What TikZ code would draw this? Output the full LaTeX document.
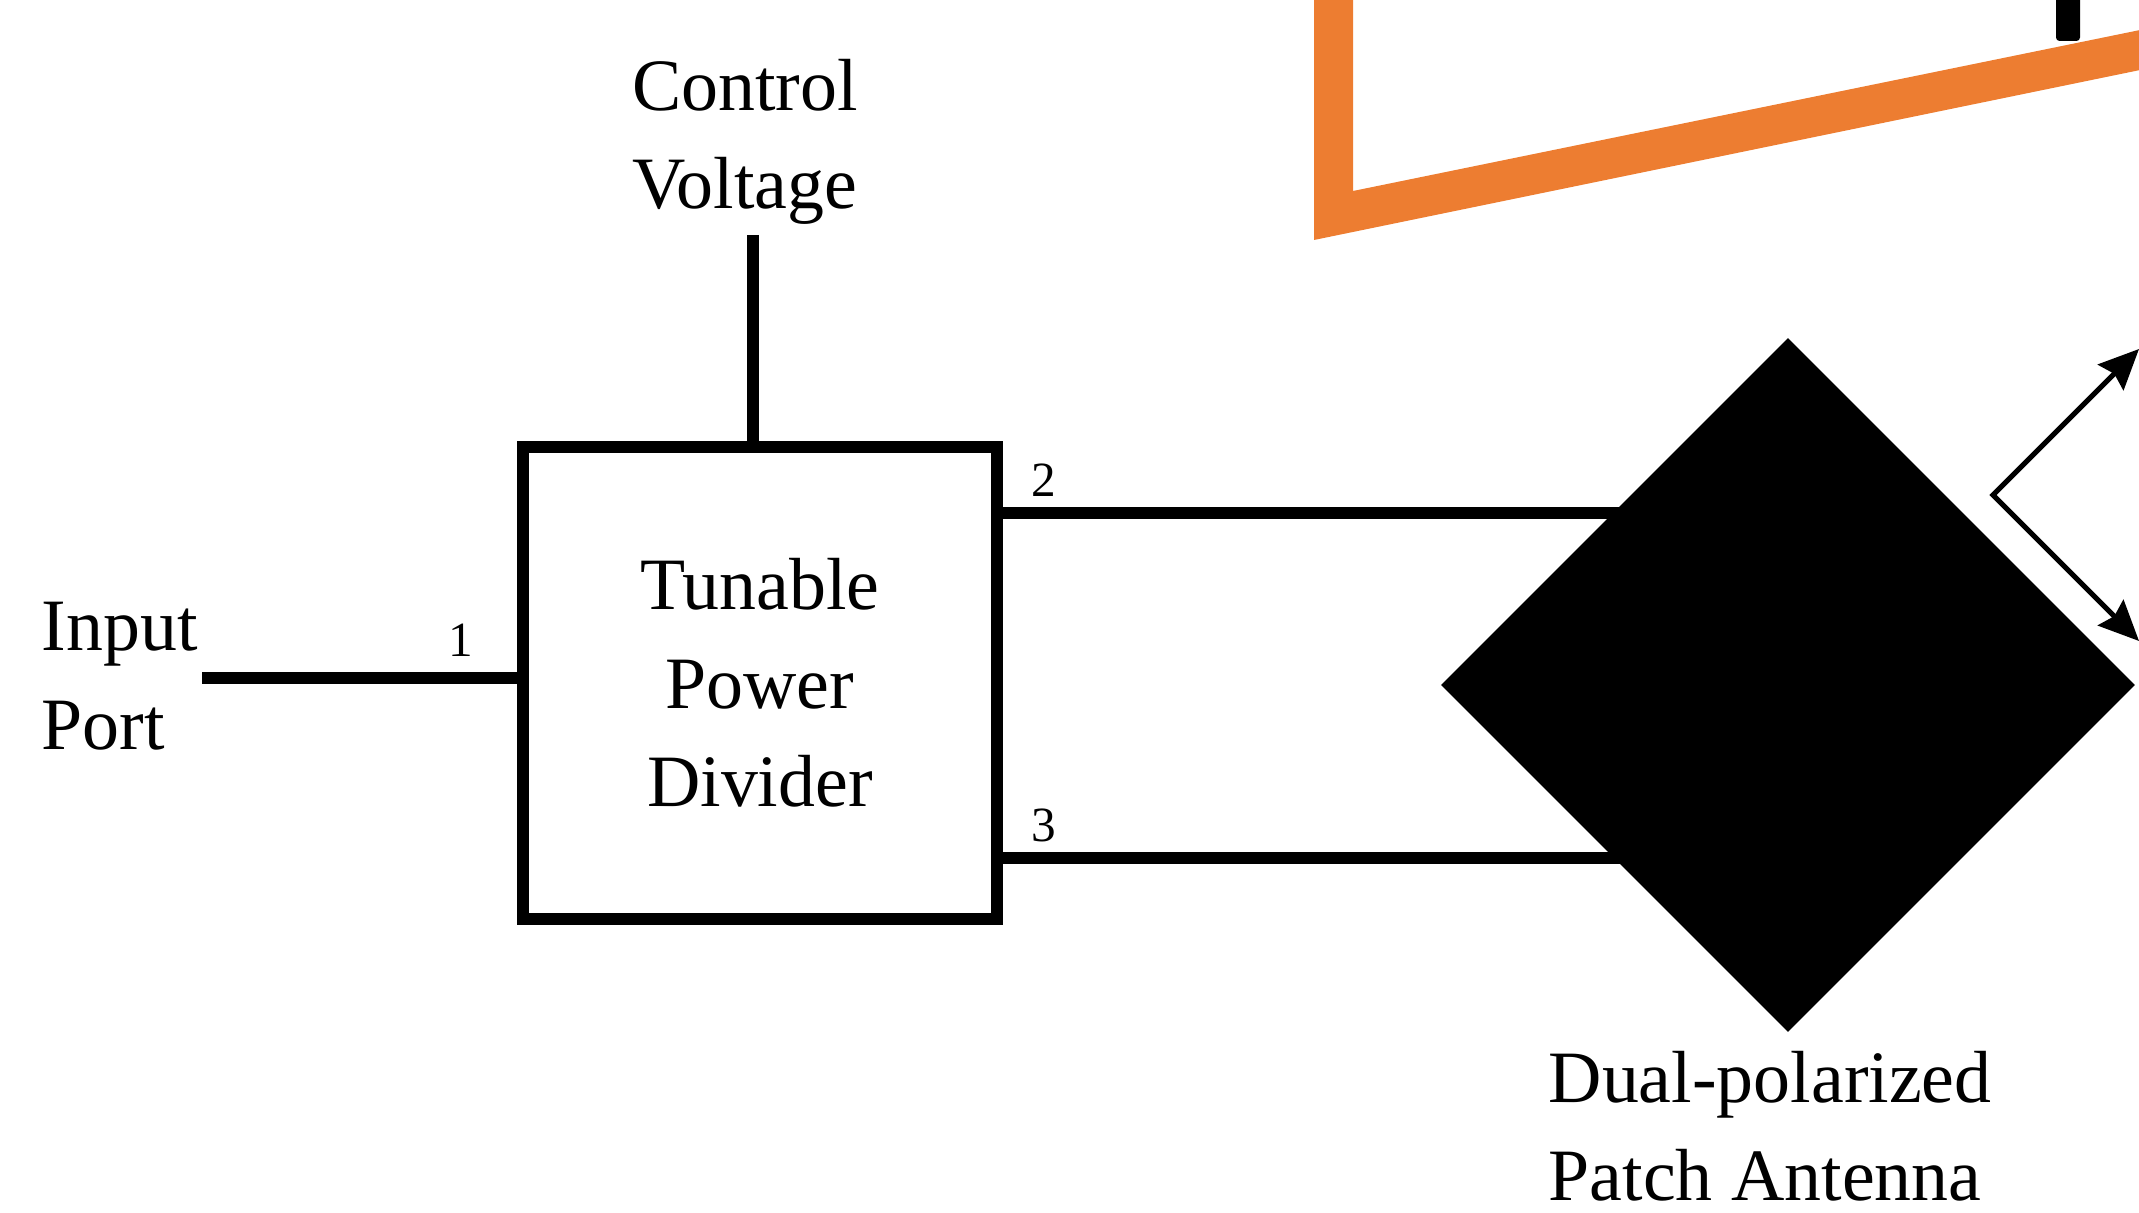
\documentclass[tikz,border=0pt]{standalone}
\usepackage{fontspec}
\setmainfont{Liberation Serif}
\usepackage{xcolor}
\definecolor{tpdOrange}{RGB}{237,125,49}
\usetikzlibrary{arrows.meta,positioning,shapes.geometric}

\begin{document}
\begin{tikzpicture}[
    x=0.01cm, y=-0.01cm,
    lbl/.style={font=\fontsize{21}{28}\selectfont, align=center, inner sep=0pt},
    portnum/.style={font=\fontsize{14}{16}\selectfont, inner sep=0pt},
    divider/.style={lbl, draw=black, line width=0.125cm,
      minimum width=4.74cm, minimum height=4.72cm},
    antenna/.style={diamond, fill=black, inner sep=0pt, minimum width=6.94cm,
      minimum height=6.94cm},
    wire/.style={line width=0.125cm, draw=black},
    polarrow/.style={{Stealth[length=0.4cm, width=0.36cm, inset=0.05cm]}-{Stealth[length=0.4cm, width=0.36cm, inset=0.05cm]},
      line width=0.05cm, draw=black}
  ]
    \useasboundingbox (0,0) rectangle (2139,1213);

    % cut-off parts of the neighbouring figure
    \fill[tpdOrange] (1314,-5) -- (1314,240) -- (2145,69) -- (2145,29) -- (1353,191) -- (1353,-5) -- cycle;
    \fill[rounded corners=1pt] (2056,-5) rectangle (2080,41);

    \node[divider] (tpd) at (760,683) {Tunable\\Power\\Divider};
    \node[lbl] (ctrl) at (745,142) {Control\\Voltage};
    \node[lbl, align=left, anchor=west] (inp) at (41,676) {Input\\Port};
    \node[portnum] (n1) at (461,640) {1};
    \node[portnum] (n2) at (1044,480) {2};
    \node[portnum] (n3) at (1044,825) {3};

    \coordinate (vc) at (753,235);
    \coordinate (pin) at (202,678);
    \coordinate (p2) at (997,513);
    \coordinate (p3) at (997,858);
    \coordinate (antc) at (1788,685);

    \draw[wire] (vc) -- (vc |- tpd.north);
    \draw[wire] (pin) -- (pin -| tpd.west);
    \draw[wire] (p2) -- (p2 -| antc);
    \draw[wire] (p3) -- (p3 -| antc);

    \node[antenna] (ant) at (antc) {};
    \node[lbl, align=left, anchor=west] (antlbl) at (1548,1126) {Dual-polarized\\Patch Antenna};

    \coordinate (pol) at (1993,495);
    \coordinate (polh) at (2139,349);
    \coordinate (polv) at (2139,641);
    \draw[polarrow] (polh) -- (pol) -- (polv);
  \end{tikzpicture}
\end{document}
